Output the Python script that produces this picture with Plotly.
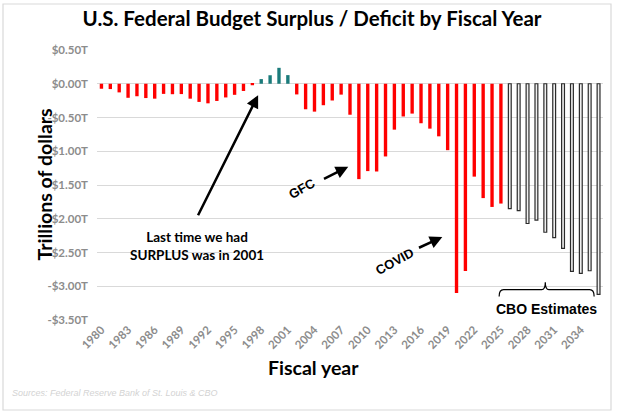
import plotly.graph_objects as go

# ---- data (trillions of dollars) ----
actual_years = list(range(1980, 2026))
actual_values = [
    -0.074, -0.079, -0.128, -0.208, -0.185, -0.212, -0.221, -0.150, -0.155, -0.153,
    -0.221, -0.269, -0.290, -0.255, -0.203, -0.164, -0.107, -0.022, 0.069, 0.126,
    0.236, 0.128, -0.158, -0.378, -0.413, -0.318, -0.248, -0.161, -0.459, -1.413,
    -1.294, -1.300, -1.077, -0.680, -0.485, -0.442, -0.585, -0.665, -0.779, -0.984,
    -3.100, -2.775, -1.376, -1.694, -1.825, -1.775,
]
cbo_years = list(range(2026, 2037))
cbo_values = [-1.85, -1.88, -2.07, -2.02, -2.20, -2.28, -2.44, -2.78, -2.81, -2.77, -3.12]

y_tickvals = [0.5, 0.0, -0.5, -1.0, -1.5, -2.0, -2.5, -3.0, -3.5]
y_ticktext = ["$0.50T", "$0.00T", "-$0.50T", "-$1.00T", "-$1.50T",
              "-$2.00T", "-$2.50T", "-$3.00T", "-$3.50T"]
x_tickvals = list(range(1980, 2035, 3))

RED = "#ff0000"
TEAL = "#1b7b7b"
FONT = "Lato"
ARIAL = "Liberation Sans"

bar_colors = [TEAL if v > 0 else RED for v in actual_values]

fig = go.Figure()
fig.add_trace(go.Bar(x=actual_years, y=actual_values, width=0.38,
                     marker=dict(color=bar_colors, line_width=0),
                     name="Actual"))
fig.add_trace(go.Bar(x=cbo_years, y=cbo_values, width=0.32,
                     marker=dict(color="#f0f0f0", line=dict(color="#2b2b2b", width=1.2)),
                     name="CBO"))

# plot area in pixels: x 97..603, y 50..320
W, H = 624, 413
L, R, T, B = 97, 603, 50, 320


def px(x):
    return (x - L) / (R - L)


def py(y):
    return (B - y) / (B - T)


fig.update_layout(
    width=W, height=H,
    margin=dict(l=L, r=W - R, t=T, b=H - B),
    plot_bgcolor="white", paper_bgcolor="white",
    showlegend=False,
    barmode="overlay",
    font=dict(family=FONT),
    title=dict(text="<b>U.S. Federal Budget Surplus / Deficit by Fiscal Year</b>",
               x=0.5, xanchor="center", y=1 - 19 / H, yanchor="middle",
               font=dict(size=20.5, color="#000000", family=FONT)),
)
fig.update_xaxes(range=[1979.5, 2036.5], tickvals=x_tickvals,
                 ticktext=["<b>%d</b>" % v for v in x_tickvals],
                 tickangle=-45, showgrid=False, zeroline=False, showline=False,
                 tickfont=dict(size=11.5, color="#8c8c8c", family=FONT))
fig.update_yaxes(range=[-3.5, 0.5], tickvals=y_tickvals,
                 ticktext=["<b>%s</b>" % t for t in y_ticktext],
                 showgrid=True, gridcolor="#d9d9d9", gridwidth=1, zeroline=False,
                 tickfont=dict(size=11.5, color="#8c8c8c", family=FONT),
                 ticklabelstandoff=8)

# axis titles
fig.add_annotation(text="<b>Fiscal year</b>", xref="paper", yref="paper",
                   x=px(313), y=py(381), showarrow=False,
                   font=dict(size=19.5, color="black"))
fig.add_annotation(text="<b>Trillions of dollars</b>", xref="paper", yref="paper",
                   x=px(30), y=py(185), textangle=-90, showarrow=False,
                   font=dict(size=19.5, color="black"))
fig.add_annotation(text="<i>Sources: Federal Reserve Bank of St. Louis &amp; CBO</i>",
                   xref="paper", yref="paper", x=px(10), y=py(400), xanchor="left",
                   showarrow=False, font=dict(size=9, color="#d3d3d3", family=ARIAL))

# callouts
fig.add_annotation(text="<b>Last time we had<br>SURPLUS was in 2001</b>", x=1990.8, y=-2.40,
                   showarrow=False, font=dict(size=13.5, color="black"))
fig.add_annotation(x=1997.65, y=-0.17, ax=1990.8, ay=-1.97, axref="x", ayref="y",
                   text="", showarrow=True, arrowhead=2, arrowsize=1, arrowwidth=2.5,
                   arrowcolor="black")
fig.add_annotation(text="<b>GFC</b>", x=2002.6, y=-1.55, textangle=-29,
                   showarrow=False, font=dict(size=13, color="black", family=ARIAL))
fig.add_annotation(x=2007.8, y=-1.23, ax=2004.9, ay=-1.42, axref="x", ayref="y",
                   text="", showarrow=True, arrowhead=2, arrowsize=1, arrowwidth=2.5,
                   arrowcolor="black")
fig.add_annotation(text="<b>COVID</b>", x=2013.0, y=-2.63, textangle=-29,
                   showarrow=False, font=dict(size=13, color="black", family=ARIAL))
fig.add_annotation(x=2018.4, y=-2.27, ax=2015.6, ay=-2.44, axref="x", ayref="y",
                   text="", showarrow=True, arrowhead=2, arrowsize=1, arrowwidth=2.5,
                   arrowcolor="black")
fig.add_annotation(text="<b>CBO Estimates</b>", x=2030.1, y=-3.34,
                   showarrow=False, font=dict(size=14, color="black", family=ARIAL))

# brace over the CBO estimates
fig.add_shape(type="path", xref="x", yref="y",
              path="M 2024.8,-3.15 Q 2024.8,-3.05 2025.3,-3.05 L 2029.6,-3.05 "
                   "Q 2030.0,-3.05 2030.0,-2.94 Q 2030.0,-3.05 2030.4,-3.05 "
                   "L 2035.0,-3.05 Q 2035.5,-3.05 2035.5,-3.15",
              line=dict(color="black", width=1.2))

# chart frame
fig.add_shape(type="rect", xref="paper", yref="paper",
              x0=px(3), x1=px(611), y0=py(410), y1=py(4),
              line=dict(color="#d9d9d9", width=1.2))

# page body margin would shift the figure by 8px
fig.write_html("out.html", config={"displayModeBar": False},
               post_script="document.body.style.margin='0';")
